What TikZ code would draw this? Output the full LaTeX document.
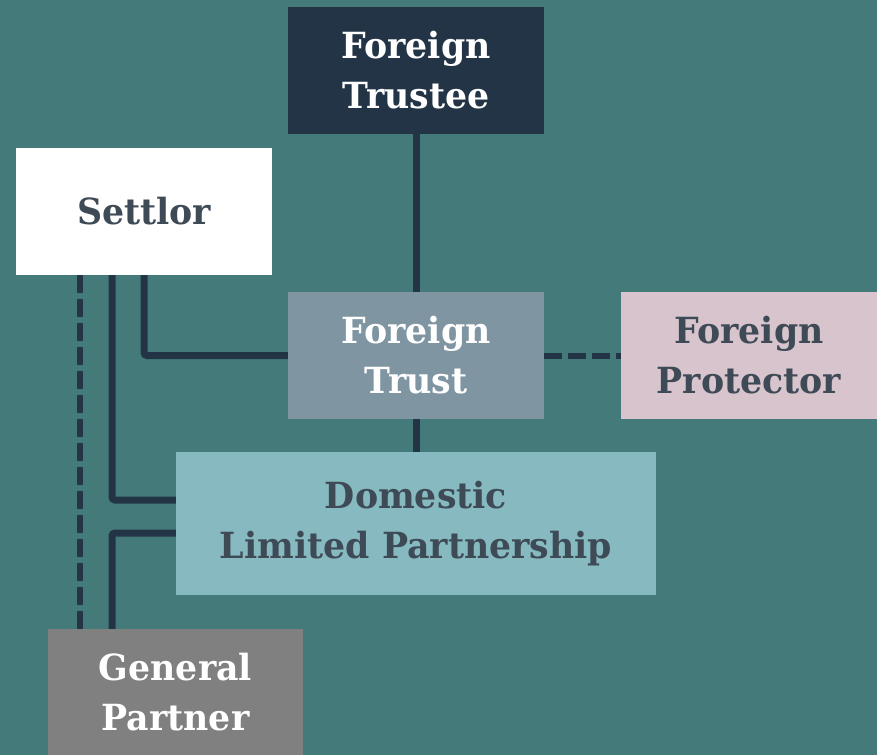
\documentclass[tikz,border=0pt]{standalone}
\usepackage{fontspec}
\setmainfont{DejaVu Serif}[BoldFont={DejaVu Serif Bold}]
\newfontfamily\boxfont{DejaVu Serif}[FakeStretch=0.965]
\definecolor{bg}{HTML}{457A7A}
\definecolor{navy}{HTML}{243447}
\definecolor{trustc}{HTML}{7F95A2}
\definecolor{protc}{HTML}{D7C4CD}
\definecolor{lpc}{HTML}{86BAC0}
\definecolor{gpc}{HTML}{808080}
\definecolor{darktext}{HTML}{3E4A56}
\tikzset{
  box/.style={rectangle, inner sep=0pt, align=center, font=\boxfont\bfseries\fontsize{36}{50}\selectfont},
  link/.style={draw=navy, line width=7pt, rounded corners=3pt},
  dlink/.style={draw=navy, line width=6pt, dash pattern=on 18pt off 6pt}
}
\begin{document}
\begin{tikzpicture}[x=1pt,y=-1pt]
\fill[bg] (0,0) rectangle (877,755);
\useasboundingbox (0,0) rectangle (877,755);
\node[box, fill=navy, text=white, minimum width=256pt, minimum height=127pt] (trustee) at (416,70.5) {Foreign\\Trustee};
\node[box, fill=white, text=darktext, minimum width=256pt, minimum height=127pt] (settlor) at (144,211.5) {Settlor};
\node[box, fill=trustc, text=white, minimum width=256pt, minimum height=127pt] (trust) at (416,355.5) {Foreign\\Trust};
\node[box, fill=protc, text=darktext, minimum width=256pt, minimum height=127pt] (prot) at (749,355.5) {Foreign\\Protector};
\node[box, fill=lpc, text=darktext, minimum width=480pt, minimum height=143pt] (lp) at (416,523.5) {Domestic\\Limited Partnership};
\node[box, fill=gpc, text=white, minimum width=255pt, minimum height=126pt] (gp) at (175.5,692) {General\\Partner};
\draw[link] (trustee.south) -- (trust.north);
\draw[link] (trust.south) -- (lp.north);
\draw[link] (settlor.south) |- (trust.west);
\draw[link] ([xshift=-32pt]settlor.south) |- ([yshift=23.5pt]lp.west);
\draw[link] ([xshift=-63.5pt]gp.north) |- ([yshift=-9.5pt]lp.west);
\draw[dlink] ([xshift=-64pt]settlor.south) -- ([xshift=-95.5pt]gp.north);
\draw[dlink] (trust.east) -- (prot.west);
\end{tikzpicture}
\end{document}
